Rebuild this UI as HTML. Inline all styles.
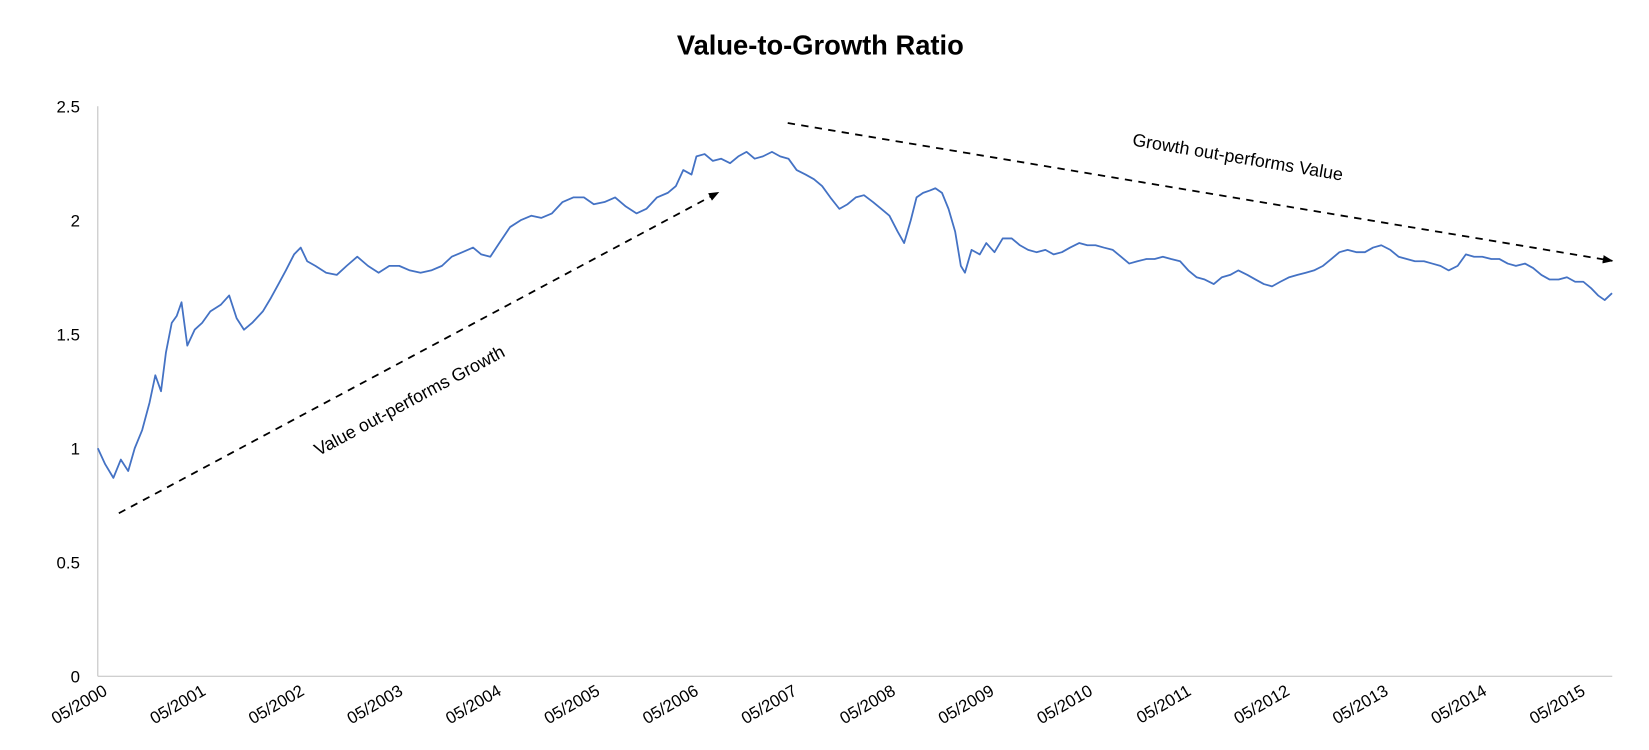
<!DOCTYPE html>
<html><head><meta charset="utf-8"><style>
body{margin:0;background:#fff;}
svg{display:block;font-family:"Liberation Sans",sans-serif;}
</style></head><body>
<svg id="chart" width="1649" height="750">
<g transform="scale(1.0517)">
<text x="780" y="52" text-anchor="middle" font-size="26" font-weight="bold" fill="#000">Value-to-Growth Ratio</text>
<line x1="93" y1="101" x2="93" y2="643" stroke="#bfbfbf"/>
<line x1="93" y1="643" x2="1533" y2="643" stroke="#bfbfbf"/>
<g id="yticks"></g>
<g id="xticks"></g>
<polyline id="series" fill="none" stroke="#4472c4" stroke-width="1.7" stroke-linejoin="round"/>
<defs><marker id="ah" markerWidth="10" markerHeight="8" refX="9" refY="4" orient="auto" markerUnits="userSpaceOnUse"><path d="M0,0 L10,4 L0,8 z" fill="#000"/></marker></defs>
<line x1="113" y1="488" x2="683" y2="183" stroke="#000" stroke-width="1.7" stroke-dasharray="7,6" marker-end="url(#ah)"/>
<line x1="749" y1="117" x2="1533" y2="248" stroke="#000" stroke-width="1.7" stroke-dasharray="7,6" marker-end="url(#ah)"/>
<text x="392" y="386" text-anchor="middle" font-size="17" transform="rotate(-28.2 392 386)">Value out-performs Growth</text>
<text x="1176" y="155" text-anchor="middle" font-size="17" transform="rotate(9.5 1176 155)">Growth out-performs Value</text>
</g>
</svg>
<script>
const months=[0,0.9,1.9,2.8,3.7,4.5,5.4,6.3,7.0,7.7,8.3,9.0,9.6,10.2,10.9,11.8,12.7,13.7,15.0,16.0,16.9,17.8,18.8,20.1,21.1,22.0,22.9,23.9,24.7,25.5,26.5,27.8,29.1,30.3,31.6,32.9,34.2,35.5,36.7,38.0,39.3,40.6,41.9,43.1,44.4,45.7,46.7,47.8,48.9,50.2,51.5,52.8,54.0,55.3,56.6,57.9,59.2,60.4,61.7,63.0,64.3,65.6,66.8,68.1,69.4,70.4,71.3,72.3,72.9,73.9,74.9,75.9,77.0,78.0,79.0,80.0,81.0,82.1,83.1,84.1,85.1,86.2,87.2,88.2,89.2,90.3,91.3,92.3,93.3,94.4,95.4,96.4,97.4,98.2,99.0,99.7,100.5,101.3,102.0,102.8,103.6,104.4,105.1,105.6,106.4,107.4,108.2,109.2,110.2,111.3,112.3,113.3,114.3,115.4,116.4,117.4,118.4,119.5,120.5,121.5,122.5,123.6,124.6,125.6,126.6,127.7,128.7,129.7,130.7,131.8,132.8,133.8,134.8,135.9,136.9,137.9,138.9,140.0,141.0,142.0,143.0,144.0,145.1,146.1,147.1,148.1,149.2,150.2,151.2,152.2,153.3,154.3,155.3,156.3,157.4,158.4,159.4,160.4,161.5,162.5,163.5,164.5,165.6,166.6,167.6,168.6,169.7,170.7,171.7,172.7,173.8,174.8,175.8,176.8,177.9,178.9,179.9,180.9,181.9,182.7,183.5,184.4];
const ratios=[1.0,0.93,0.87,0.95,0.9,1.0,1.08,1.2,1.32,1.25,1.42,1.55,1.58,1.64,1.45,1.52,1.55,1.6,1.63,1.67,1.57,1.52,1.55,1.6,1.66,1.72,1.78,1.85,1.88,1.82,1.8,1.77,1.76,1.8,1.84,1.8,1.77,1.8,1.8,1.78,1.77,1.78,1.8,1.84,1.86,1.88,1.85,1.84,1.9,1.97,2.0,2.02,2.01,2.03,2.08,2.1,2.1,2.07,2.08,2.1,2.06,2.03,2.05,2.1,2.12,2.15,2.22,2.2,2.28,2.29,2.26,2.27,2.25,2.28,2.3,2.27,2.28,2.3,2.28,2.27,2.22,2.2,2.18,2.15,2.1,2.05,2.07,2.1,2.11,2.08,2.05,2.02,1.95,1.9,2.0,2.1,2.12,2.13,2.14,2.12,2.05,1.95,1.8,1.77,1.87,1.85,1.9,1.86,1.92,1.92,1.89,1.87,1.86,1.87,1.85,1.86,1.88,1.9,1.89,1.89,1.88,1.87,1.84,1.81,1.82,1.83,1.83,1.84,1.83,1.82,1.78,1.75,1.74,1.72,1.75,1.76,1.78,1.76,1.74,1.72,1.71,1.73,1.75,1.76,1.77,1.78,1.8,1.83,1.86,1.87,1.86,1.86,1.88,1.89,1.87,1.84,1.83,1.82,1.82,1.81,1.8,1.78,1.8,1.85,1.84,1.84,1.83,1.83,1.81,1.8,1.81,1.79,1.76,1.74,1.74,1.75,1.73,1.73,1.7,1.67,1.65,1.68];
const yTicks=[0,0.5,1,1.5,2,2.5];
const yTickLabels=["0","0.5","1","1.5","2","2.5"];
const xTickMonths=[0,12,24,36,48,60,72,84,96,108,120,132,144,156,168,180];
const xTickLabels=["05/2000","05/2001","05/2002","05/2003","05/2004","05/2005","05/2006","05/2007","05/2008","05/2009","05/2010","05/2011","05/2012","05/2013","05/2014","05/2015"];
const NS="http://www.w3.org/2000/svg";
function xs(m){return 93+m*7.808;}
function ys(v){return 643-v*216.8;}
const yg=document.getElementById('yticks');
yTicks.forEach((v,i)=>{const t=document.createElementNS(NS,'text');
t.setAttribute('x',76);t.setAttribute('y',ys(v)+6);t.setAttribute('text-anchor','end');t.setAttribute('font-size','16');
t.textContent=yTickLabels[i];


yg.appendChild(t);});
const xg=document.getElementById('xticks');
xTickMonths.forEach((m,i)=>{const x=xs(m);
const t=document.createElementNS(NS,'text');
t.setAttribute('x',x+10);t.setAttribute('y',660);t.setAttribute('text-anchor','end');t.setAttribute('font-size','16');
t.setAttribute('transform','rotate(-30 '+(x+10)+' 660)');
t.textContent=xTickLabels[i];


xg.appendChild(t);});
document.getElementById('series').setAttribute('points',months.map((m,i)=>xs(m).toFixed(1)+','+ys(ratios[i]).toFixed(1)).join(' '));
</script>
</body></html>
